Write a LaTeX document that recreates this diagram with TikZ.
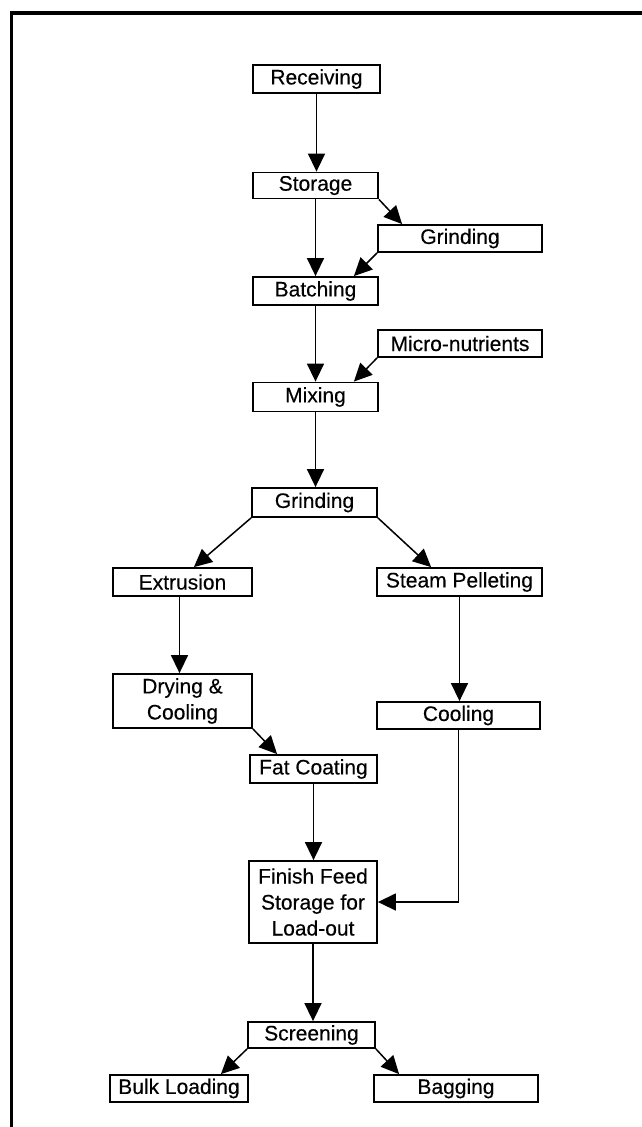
\documentclass[tikz,border=0pt]{standalone}
\usepackage{fontspec}
\setmainfont{Liberation Sans}
\newfontfamily\boxfont{Liberation Sans}[RawFeature={embolden=0.3}]
\usetikzlibrary{arrows.meta}
\begin{document}
\begin{tikzpicture}[x=1pt,y=-1pt,
  box/.style={draw=black, line width=1.8pt, fill=white, inner sep=0pt, align=center,
    font=\boxfont\fontsize{21}{26}\selectfont},
  flow/.style={line width=1.5pt, -{Triangle[length=18pt,width=17pt]}},
  frame/.style={line width=3.5pt, line cap=rect}]
\useasboundingbox (0,0) rectangle (641,1127);
% outer frame (top and left edges)
\coordinate (fTL) at (11.5,13);
\coordinate (fTR) at (641,13);
\coordinate (fBL) at (11.5,1127);
\draw[frame] (fTR) -- (fTL) -- (fBL);
% nodes
\node[box, minimum width=127pt, minimum height=28pt] (rc) at (316.5,79) {Receiving};
\node[box, minimum width=125pt, minimum height=26pt] (st) at (315.5,185.5) {Storage};
\node[box, minimum width=164pt, minimum height=27pt] (g1) at (460,238.5) {Grinding};
\node[box, minimum width=125pt, minimum height=28pt] (ba) at (315.5,291) {Batching};
\node[box, minimum width=164pt, minimum height=27pt] (mi) at (460,343.5) {Micro-nutrients};
\node[box, minimum width=125pt, minimum height=29pt] (mx) at (315.5,397) {Mixing};
\node[box, minimum width=125pt, minimum height=29pt] (g2) at (314.5,502.5) {Grinding};
\node[box, minimum width=139pt, minimum height=28pt] (ex) at (182.5,582) {Extrusion};
\node[box, minimum width=165pt, minimum height=28pt] (sp) at (459.5,582) {Steam Pelleting};
\node[box, minimum width=139pt, minimum height=54pt] (dc) at (182.5,701) {Drying \&\\Cooling};
\node[box, minimum width=163pt, minimum height=27pt] (co) at (458.5,715.5) {Cooling};
\node[box, minimum width=127pt, minimum height=28pt] (fc) at (313.5,769) {Fat Coating};
\node[box, minimum width=128pt, minimum height=82pt] (ff) at (313,902) {Finish Feed\\Storage for\\Load-out};
\node[box, minimum width=127pt, minimum height=26pt] (sc) at (311.5,1035) {Screening};
\node[box, minimum width=138pt, minimum height=27pt] (bl) at (179,1088.5) {Bulk Loading};
\node[box, minimum width=164pt, minimum height=27pt] (bg) at (456,1088.5) {Bagging};
% connectors
\draw[flow] (rc.south) -- (rc.south |- st.north);
\draw[flow] (st.south east) -- ([xshift=25pt]g1.north west);
\draw[flow] (st.south) -- (st.south |- ba.north);
\draw[flow] (g1.south west) -- ([xshift=-25pt]ba.north east);
\draw[flow] (ba.south) -- (ba.south |- mx.north);
\draw[flow] (mi.south west) -- ([xshift=-25pt]mx.north east);
\draw[flow] (mx.south) -- (mx.south |- g2.north);
\draw[flow] (g2.south west) -- ([xshift=-59pt]ex.north east);
\draw[flow] (g2.south east) -- ([xshift=55pt]sp.north west);
\draw[flow] ([xshift=-3pt]ex.south) -- ([xshift=-3pt]ex.south |- dc.north);
\draw[flow] (sp.south) -- (sp.south |- co.north);
\draw[flow] (dc.south east) -- ([xshift=28pt]fc.north west);
\draw[flow] (fc.south) -- (fc.south |- ff.north);
\draw[flow] (co.south) |- (ff.east);
\draw[flow] (ff.south) -- (ff.south |- sc.north);
\draw[flow] (sc.south west) -- ([xshift=-28pt]bl.north east);
\draw[flow] (sc.south east) -- ([xshift=26pt]bg.north west);
\end{tikzpicture}
\end{document}
